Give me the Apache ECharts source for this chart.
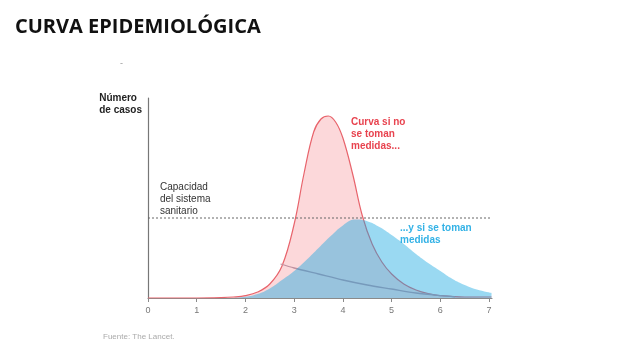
<!DOCTYPE html>
<html><head><meta charset="utf-8">
<script src="https://cdn.jsdelivr.net/npm/echarts@6/dist/echarts.min.js"></script>
<style>html,body{margin:0;padding:0;background:#fff}#c{width:638px;height:359px}</style>
</head><body><div id="c"></div>
<script>
// Data
const xTicks = [0,1,2,3,4,5,6,7];
const redX = [0,1,1.5,1.75,2.0,2.25,2.5,2.75,3.0,3.2,3.4,3.55,3.7,3.85,4.0,4.2,4.4,4.6,4.8,5.0,5.25,5.5,5.75,6.0,6.5,7.05];
const redY = [0,0,0.2,0.5,1.2,3,7,16,37,62,83,89.5,91,88,80,62,41,27,18,12,7,4,2.2,1.2,0.5,0.5];
const blueX = [1.75,2.0,2.25,2.5,2.75,3.0,3.25,3.5,3.75,4.0,4.25,4.5,4.75,5.0,5.25,5.5,5.75,6.0,6.25,6.5,6.75,7.05];
const blueY = [0,0.6,2,4.8,9,13.5,19,25,31,36.3,39.2,38.4,35.5,31.5,27,22,17.5,13.5,9.5,6.5,4.2,2.5];
const grayX = [2.72,3.0,3.5,4.0,4.5,5.0,5.5,6.0,6.3];
const grayY = [17,15,12,9,6.5,4.5,2.5,1.2,0.6];
const capacity = 40;

const zip = (xs, ys) => xs.map((x,i)=>[x, ys[i]]);
const chart = echarts.init(document.getElementById('c'), null, {renderer:'canvas'});
chart.setOption({
  animation:false,
  grid:{left:148, right:146, top:98, bottom:61},
  xAxis:{type:'value', min:0, max:7.06, interval:1,
    axisLine:{lineStyle:{color:'#8a8a8a', width:1.2}},
    axisTick:{show:true, length:4, lineStyle:{color:'#8a8a8a'}},
    axisLabel:{color:'#777', fontSize:9, fontFamily:'Liberation Sans', margin:8, showMaxLabel:false,
      formatter:v=> xTicks.includes(v)? String(v):''},
    splitLine:{show:false}},
  yAxis:{type:'value', min:0, max:100,
    axisLine:{show:true, lineStyle:{color:'#777', width:1.2}},
    axisTick:{show:false}, axisLabel:{show:false}, splitLine:{show:false}},
  series:[
    {type:'line', data:zip(redX, redY), smooth:0.4, symbol:'none', z:2,
      lineStyle:{color:'#e8646c', width:1.2},
      areaStyle:{color:'#fcd8da', opacity:1}},
    {type:'line', data:zip(grayX, grayY), smooth:0.3, symbol:'none', z:3,
      lineStyle:{color:'#c0909f', width:1.3}},
    {type:'line', data:zip(blueX, blueY), smooth:0.45, symbol:'none', z:4,
      lineStyle:{width:0},
      areaStyle:{color:'rgb(20,168,225)', opacity:0.43}},
    {type:'line', data:[[0,capacity],[7.06,capacity]], symbol:'none', z:5,
      lineStyle:{color:'#666', width:1, type:[2,2]}}
  ],
  graphic:[
    {type:'text', left:15, top:17, style:{text:'CURVA EPIDEMIOLÓGICA', font:'bold 20px "Open Sans"', fill:'#111'}},
    {type:'text', left:120, top:59, style:{text:'-', font:'9px "Liberation Sans"', fill:'#999'}},
    {type:'text', right:496, top:92, style:{text:'Número\nde casos', font:'bold 10px "Liberation Sans"', fill:'#222', align:'right', lineHeight:12}},
    {type:'text', left:160, top:181, style:{text:'Capacidad\ndel sistema\nsanitario', font:'10px "Liberation Sans"', fill:'#333', lineHeight:12}},
    {type:'text', left:351, top:116, style:{text:'Curva si no\nse toman\nmedidas...', font:'bold 10px "Liberation Sans"', fill:'#e8434f', lineHeight:12}},
    {type:'text', left:400, top:222, style:{text:'...y si se toman\nmedidas', font:'bold 10px "Liberation Sans"', fill:'#33b2e6', lineHeight:12}},
    {type:'text', left:103, top:333, style:{text:'Fuente: The Lancet.', font:'8px "Liberation Sans"', fill:'#aaa'}}
  ]
});
</script></body></html>
